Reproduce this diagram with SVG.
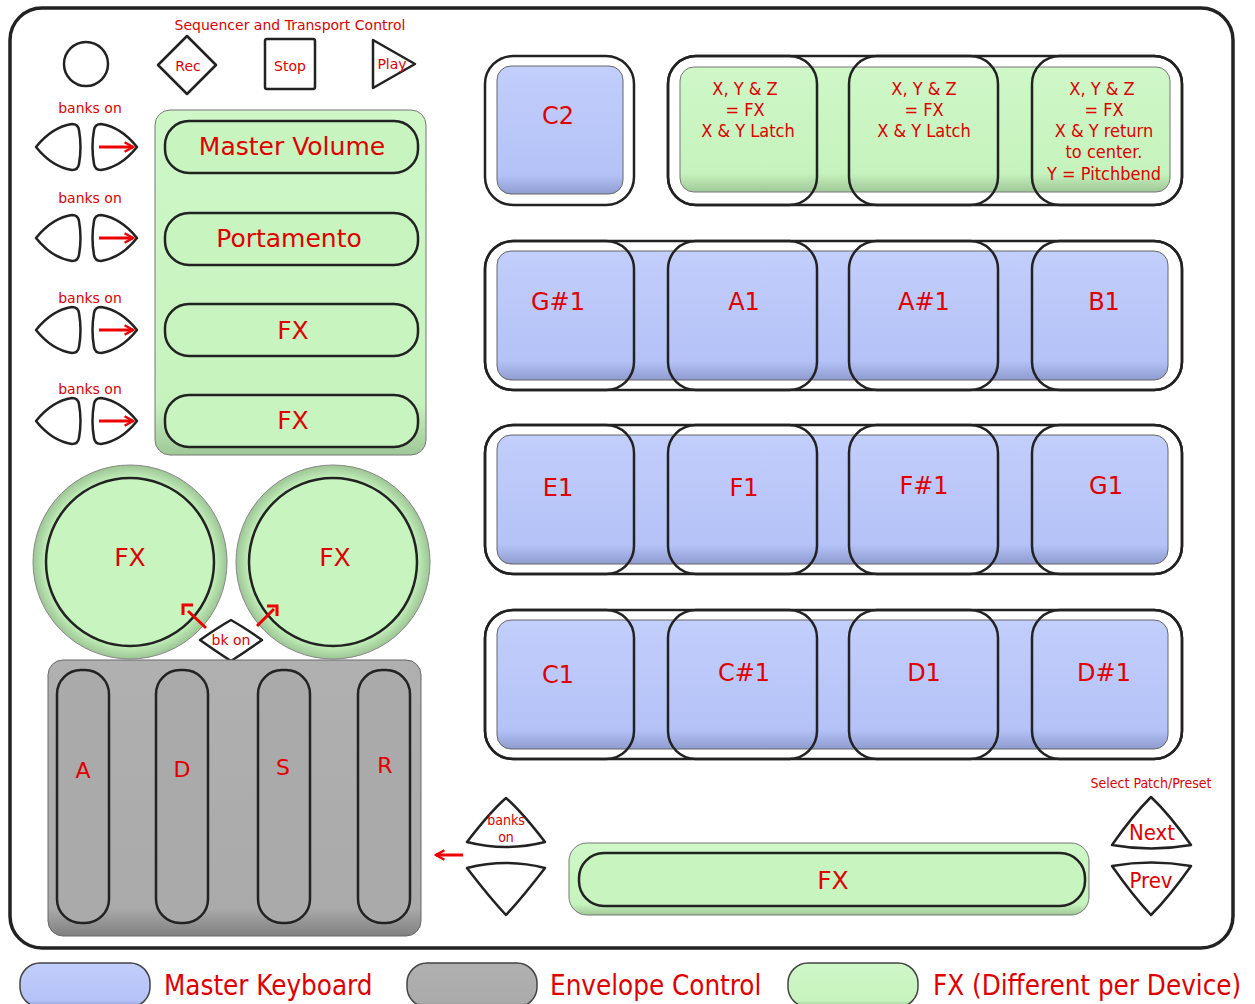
<svg xmlns="http://www.w3.org/2000/svg" width="1255" height="1004" viewBox="0 0 1255 1004">
<defs>
<linearGradient id="gBlue" x1="0" y1="0" x2="0" y2="1"><stop offset="0" stop-color="#c2cefb"/><stop offset="0.85" stop-color="#b4c2f7"/><stop offset="1" stop-color="#8f9cd0"/></linearGradient>
<linearGradient id="gGreen" x1="0" y1="0" x2="0" y2="1"><stop offset="0" stop-color="#cff7c8"/><stop offset="0.85" stop-color="#c6f3bd"/><stop offset="1" stop-color="#9fc898"/></linearGradient>
<linearGradient id="gGray" x1="0" y1="0" x2="0" y2="1"><stop offset="0" stop-color="#b0b0b0"/><stop offset="0.9" stop-color="#aaaaaa"/><stop offset="1" stop-color="#808080"/></linearGradient>
<radialGradient id="gCirc"><stop offset="0.85" stop-color="#c8f5bf"/><stop offset="1" stop-color="#9cc594"/></radialGradient>
<marker id="ah" viewBox="0 0 10 10" refX="8" refY="5" markerWidth="4" markerHeight="4" orient="auto"><path d="M1,1 L8,5 L1,9" fill="none" stroke="#e00" stroke-width="2"/></marker>
<path id="lbtn" d="M36,0 Q52,-20 72,-23 Q78,-23 79,-17 Q82,0 79,17 Q78,23 72,23 Q52,20 36,0 Z"/>
<path id="rbtn" d="M137,0 Q121,-20 101,-23 Q95,-23 94,-17 Q91,0 94,17 Q95,23 101,23 Q121,20 137,0 Z"/>
</defs>
<style>
.t{font-family:"DejaVu Sans","Noto Sans",sans-serif;fill:#e00000;text-anchor:middle}
.c{font-family:"DejaVu Sans Condensed","DejaVu Sans",sans-serif;fill:#e00000;text-anchor:middle}
.lg{font-family:"DejaVu Sans Condensed","DejaVu Sans",sans-serif;fill:#e00000;font-size:27.5px}
.ol{fill:none;stroke:#222;stroke-width:2.5}
.btn{fill:#fff;stroke:#222;stroke-width:2.5;stroke-linejoin:round}
.blue{fill:url(#gBlue);stroke:#666;stroke-width:1}
.green{fill:url(#gGreen);stroke:#777;stroke-width:1}
.gray{fill:url(#gGray);stroke:#666;stroke-width:1}
.pill{fill:#c8f5bf;stroke:#222;stroke-width:2.5}
.slider{fill:#aaaaaa;stroke:#222;stroke-width:2.5}
.arr{stroke:#e00;stroke-width:3;fill:none;marker-end:url(#ah)}
</style>
<rect width="1255" height="1004" fill="#fff"/>
<g id="frame"><rect x="10" y="8" width="1223" height="940" rx="32" fill="none" stroke="#222" stroke-width="3.5"/></g>

<g id="transport">
<text class="t" x="290" y="30" font-size="14">Sequencer and Transport Control</text>
<circle cx="86" cy="64" r="22" class="btn"/>
<g id="rec"><path d="M187,36 L216,65 L187,94 L158,65 Z" class="btn"/><text class="t" x="188" y="71" font-size="14">Rec</text></g>
<g id="stop"><rect x="265" y="39" width="50" height="50" rx="2" class="btn"/><text class="t" x="290" y="71" font-size="14">Stop</text></g>
<g id="play"><path d="M373,40 L415,64 L373,88 Z" class="btn"/><text class="t" x="392" y="69" font-size="14">Play</text></g>
</g>

<g id="bank-buttons">
<text class="t" x="90" y="113" font-size="14">banks on</text>
<text class="t" x="90" y="203" font-size="14">banks on</text>
<text class="t" x="90" y="303" font-size="14">banks on</text>
<text class="t" x="90" y="394" font-size="14">banks on</text>
<g id="bk1" transform="translate(0,147)"><use href="#lbtn" class="btn"/><use href="#rbtn" class="btn"/><line x1="99" y1="0" x2="133" y2="0" class="arr"/></g>
<g id="bk2" transform="translate(0,238)"><use href="#lbtn" class="btn"/><use href="#rbtn" class="btn"/><line x1="99" y1="0" x2="133" y2="0" class="arr"/></g>
<g id="bk3" transform="translate(0,330)"><use href="#lbtn" class="btn"/><use href="#rbtn" class="btn"/><line x1="99" y1="0" x2="133" y2="0" class="arr"/></g>
<g id="bk4" transform="translate(0,421)"><use href="#lbtn" class="btn"/><use href="#rbtn" class="btn"/><line x1="99" y1="0" x2="133" y2="0" class="arr"/></g>
</g>

<g id="fader-panel">
<rect x="155" y="110" width="271" height="345" rx="15" class="green"/>
<g id="master-volume"><rect x="165" y="121" width="253" height="52" rx="24" class="pill"/><text class="t" x="292" y="155" font-size="25">Master Volume</text></g>
<g id="portamento"><rect x="165" y="213" width="253" height="52" rx="24" class="pill"/><text class="t" x="289" y="247" font-size="25">Portamento</text></g>
<g id="fx-strip1"><rect x="165" y="304" width="253" height="52" rx="24" class="pill"/><text class="t" x="293" y="339" font-size="25">FX</text></g>
<g id="fx-strip2"><rect x="165" y="395" width="253" height="52" rx="24" class="pill"/><text class="t" x="293" y="429" font-size="25">FX</text></g>
</g>

<g id="knobs">
<g id="knob1"><circle cx="130" cy="562" r="97" fill="url(#gCirc)" stroke="#888" stroke-width="1"/><circle cx="130" cy="562" r="84" fill="#c8f5bf" stroke="#222" stroke-width="2.5"/><text class="t" x="130" y="566" font-size="25">FX</text></g>
<g id="knob2"><circle cx="333" cy="562" r="97" fill="url(#gCirc)" stroke="#888" stroke-width="1"/><circle cx="333" cy="562" r="84" fill="#c8f5bf" stroke="#222" stroke-width="2.5"/><text class="t" x="335" y="566" font-size="25">FX</text></g>
<g id="bk-on"><path d="M231,620 Q245,628 262,640 Q245,652 231,661 Q217,652 200,640 Q217,628 231,620 Z" class="btn"/><text class="t" x="231" y="645" font-size="14">bk on</text></g>
</g>

<g id="envelope-panel">
<rect x="48" y="660" width="373" height="276" rx="15" class="gray"/>
<g id="slider-a"><rect x="57" y="670" width="52" height="253" rx="24" class="slider"/><text class="t" x="83" y="778" font-size="22">A</text></g>
<g id="slider-d"><rect x="156" y="670" width="52" height="253" rx="24" class="slider"/><text class="t" x="182" y="777" font-size="22">D</text></g>
<g id="slider-s"><rect x="258" y="670" width="52" height="253" rx="24" class="slider"/><text class="t" x="283" y="775" font-size="22">S</text></g>
<g id="slider-r"><rect x="358" y="670" width="52" height="253" rx="24" class="slider"/><text class="t" x="385" y="773" font-size="22">R</text></g>
</g>

<g id="pad-c2"><rect x="485" y="56" width="149" height="149" rx="28" class="ol"/><rect x="497" y="66" width="126" height="128" rx="14" class="blue"/><text class="t" x="558" y="124" font-size="24">C2</text></g>

<g id="xy-pads">
<rect x="680" y="67" width="490" height="125" rx="14" class="green"/>
<rect x="668" y="56" width="514" height="149" rx="28" class="ol"/>
<g id="xy1"><rect x="668" y="56" width="149" height="149" rx="28" class="ol"/><text class="c" x="745" y="95" font-size="18">X, Y &amp; Z</text><text class="c" x="745" y="116" font-size="18">= FX</text><text class="c" x="748" y="137" font-size="18">X &amp; Y Latch</text></g>
<g id="xy2"><rect x="849" y="56" width="149" height="149" rx="28" class="ol"/><text class="c" x="924" y="95" font-size="18">X, Y &amp; Z</text><text class="c" x="924" y="116" font-size="18">= FX</text><text class="c" x="924" y="137" font-size="18">X &amp; Y Latch</text></g>
<g id="xy3"><rect x="1032" y="56" width="150" height="149" rx="28" class="ol"/><text class="c" x="1102" y="95" font-size="18">X, Y &amp; Z</text><text class="c" x="1104" y="116" font-size="18">= FX</text><text class="c" x="1104" y="137" font-size="18">X &amp; Y return</text><text class="c" x="1104" y="158" font-size="18">to center.</text><text class="c" x="1104" y="180" font-size="18">Y = Pitchbend</text></g>
</g>

<g id="row-g">
<rect x="497" y="251" width="671" height="129" rx="14" class="blue"/>
<rect x="485" y="241" width="697" height="149" rx="28" class="ol"/>
<g id="pad-gs1"><rect x="485" y="241" width="149" height="149" rx="28" class="ol"/><text class="t" x="558" y="310" font-size="24">G#1</text></g>
<g id="pad-a1"><rect x="668" y="241" width="149" height="149" rx="28" class="ol"/><text class="t" x="744" y="310" font-size="24">A1</text></g>
<g id="pad-as1"><rect x="849" y="241" width="149" height="149" rx="28" class="ol"/><text class="t" x="924" y="310" font-size="24">A#1</text></g>
<g id="pad-b1"><rect x="1032" y="241" width="150" height="149" rx="28" class="ol"/><text class="t" x="1104" y="310" font-size="24">B1</text></g>
</g>

<g id="row-e">
<rect x="497" y="435" width="671" height="129" rx="14" class="blue"/>
<rect x="485" y="425" width="697" height="149" rx="28" class="ol"/>
<g id="pad-e1"><rect x="485" y="425" width="149" height="149" rx="28" class="ol"/><text class="t" x="558" y="496" font-size="24">E1</text></g>
<g id="pad-f1"><rect x="668" y="425" width="149" height="149" rx="28" class="ol"/><text class="t" x="744" y="496" font-size="24">F1</text></g>
<g id="pad-fs1"><rect x="849" y="425" width="149" height="149" rx="28" class="ol"/><text class="t" x="924" y="494" font-size="24">F#1</text></g>
<g id="pad-g1"><rect x="1032" y="425" width="150" height="149" rx="28" class="ol"/><text class="t" x="1106" y="494" font-size="24">G1</text></g>
</g>

<g id="row-c">
<rect x="497" y="620" width="671" height="129" rx="14" class="blue"/>
<rect x="485" y="610" width="697" height="149" rx="28" class="ol"/>
<g id="pad-c1"><rect x="485" y="610" width="149" height="149" rx="28" class="ol"/><text class="t" x="558" y="683" font-size="24">C1</text></g>
<g id="pad-cs1"><rect x="668" y="610" width="149" height="149" rx="28" class="ol"/><text class="t" x="744" y="681" font-size="24">C#1</text></g>
<g id="pad-d1"><rect x="849" y="610" width="149" height="149" rx="28" class="ol"/><text class="t" x="924" y="681" font-size="24">D1</text></g>
<g id="pad-ds1"><rect x="1032" y="610" width="150" height="149" rx="28" class="ol"/><text class="t" x="1104" y="681" font-size="24">D#1</text></g>
</g>

<g id="bottom-controls">
<g id="bank-up"><path d="M506,798 Q522,812 545,842 Q506,852 467,842 Q490,812 506,798 Z" class="btn"/><text class="c" x="506" y="825" font-size="14">banks</text><text class="c" x="506" y="842" font-size="14">on</text></g>
<g id="bank-down"><path d="M467,868 Q506,858 545,868 Q522,898 506,915 Q490,898 467,868 Z" class="btn"/></g>
<g id="fx-bar"><rect x="569" y="843" width="520" height="72" rx="18" class="green"/><rect x="579" y="853" width="506" height="53" rx="25" class="pill"/><text class="t" x="833" y="889" font-size="25">FX</text></g>
<text class="c" x="1151" y="788" font-size="14">Select Patch/Preset</text>
<g id="next"><path d="M1151,797 Q1170,815 1191,845 Q1151,852 1112,845 Q1133,815 1151,797 Z" class="btn"/><text class="c" x="1152" y="840" font-size="22">Next</text></g>
<g id="prev"><path d="M1112,866 Q1151,859 1191,866 Q1170,896 1151,915 Q1133,896 1112,866 Z" class="btn"/><text class="c" x="1151" y="888" font-size="22">Prev</text></g>
</g>

<g id="connectors">
<line x1="188" y1="611" x2="206" y2="628" stroke="#e00" stroke-width="3"/>
<path d="M183,615 L183,605 L193,605" fill="none" stroke="#e00" stroke-width="3"/>
<line x1="257" y1="626" x2="274" y2="609" stroke="#e00" stroke-width="3"/>
<path d="M267,606 L277,606 L277,616" fill="none" stroke="#e00" stroke-width="3"/>
<line x1="463" y1="855" x2="436" y2="855" class="arr"/>
</g>

<g id="legend">
<rect x="20" y="963" width="130" height="44" rx="20" fill="url(#gBlue)" stroke="#444" stroke-width="1.5"/>
<text class="lg" x="164" y="995">Master Keyboard</text>
<rect x="407" y="963" width="130" height="44" rx="20" fill="url(#gGray)" stroke="#444" stroke-width="1.5"/>
<text class="lg" x="550" y="995">Envelope Control</text>
<rect x="788" y="963" width="130" height="44" rx="20" fill="url(#gGreen)" stroke="#444" stroke-width="1.5"/>
<text class="lg" x="933" y="995">FX (Different per Device)</text>
</g>
</svg>
